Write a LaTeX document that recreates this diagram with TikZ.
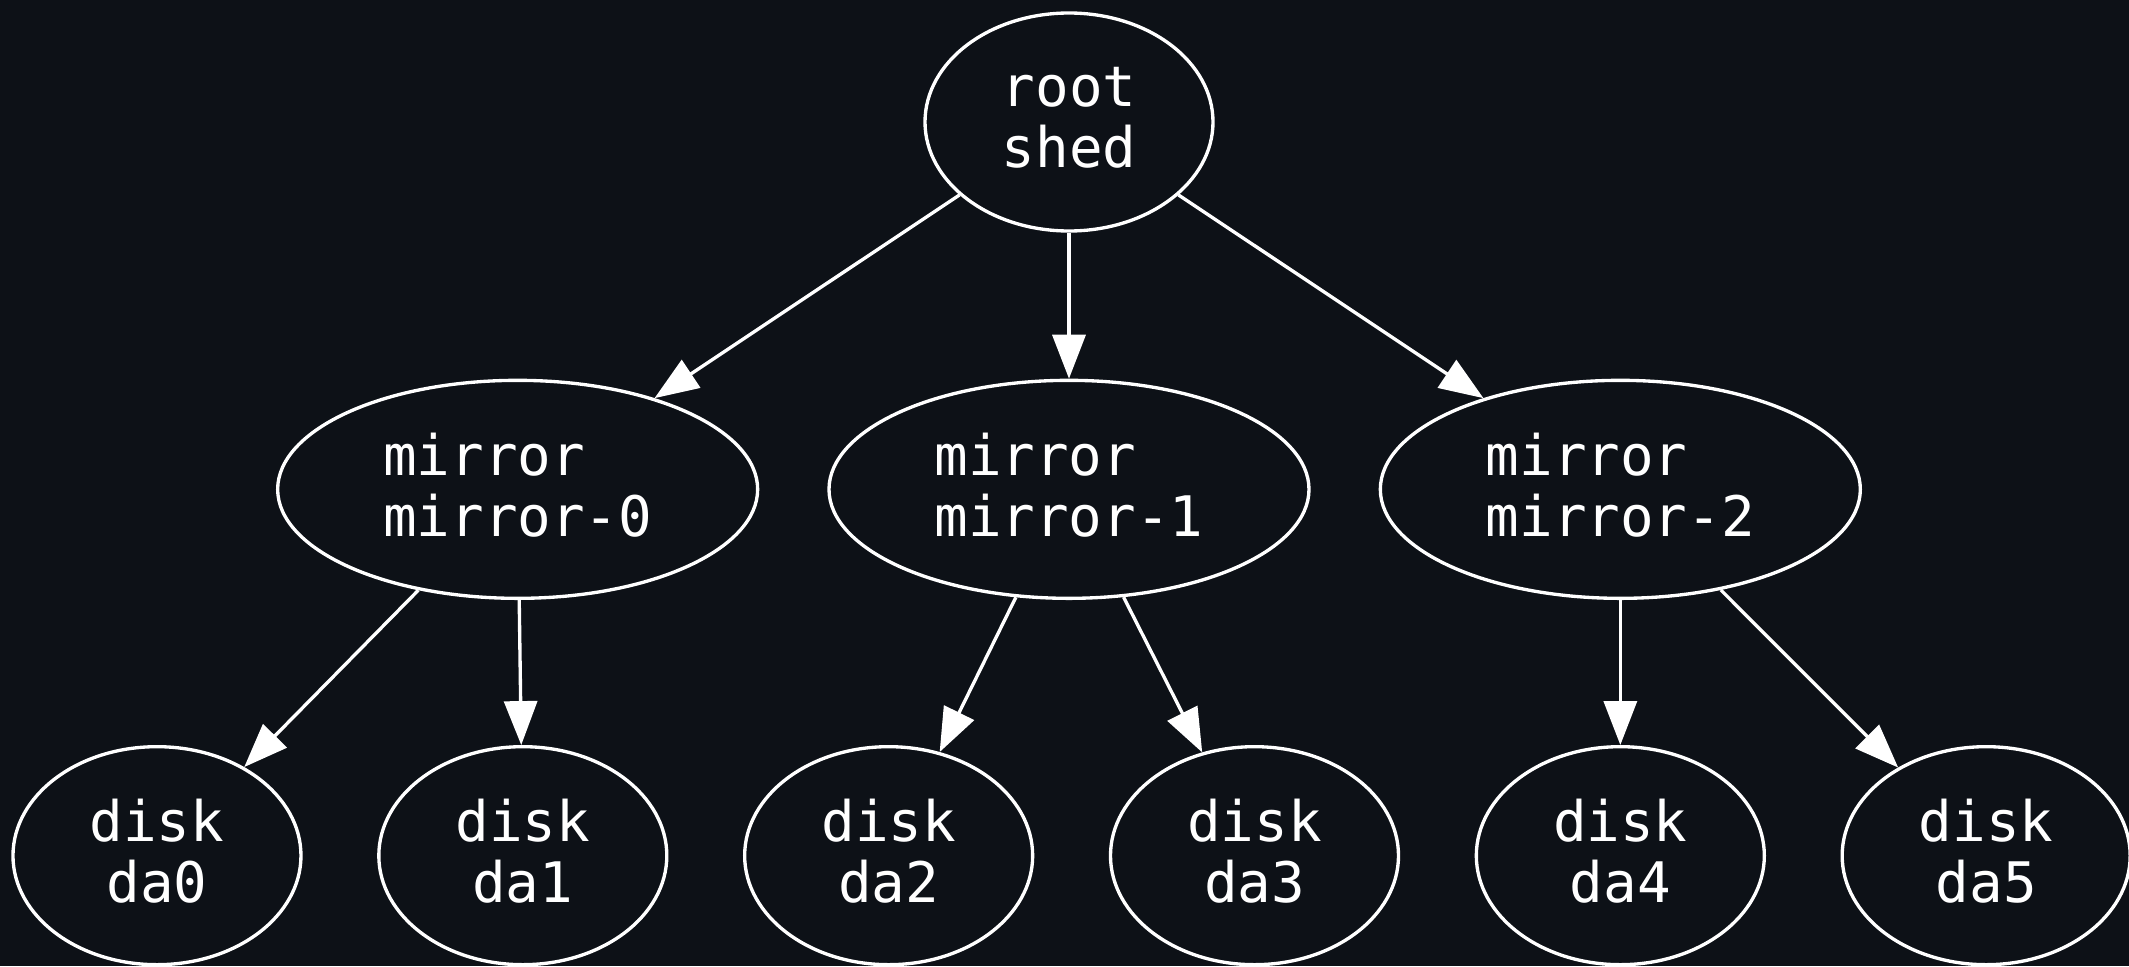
\documentclass[tikz,border=0pt]{standalone}
\usepackage{fontspec}
\setmonofont{DejaVu Sans Mono}
\usepackage{tikz,xcolor}
\usetikzlibrary{positioning, shapes.geometric, graphs, arrows.meta}

\definecolor{bgdark}{HTML}{0D1117}
\tikzset{
    vdev/.style={draw, ellipse, inner sep=0pt, line width=0.95pt, text depth=2.8pt,
        font=\ttfamily\fontsize{15.9}{17.3}\selectfont},
    rootvdev/.style={vdev, minimum width=2.88cm, minimum height=2.18cm, align=center},
    mirrorvdev/.style={vdev, minimum width=4.80cm, minimum height=2.18cm, align=left},
    diskvdev/.style={vdev, minimum width=2.88cm, minimum height=2.18cm, align=center},
}

\begin{document}
\begin{tikzpicture}[color=white, line width=0.95pt,
        >={Triangle[length=12.5pt, width=9.4pt]}]
            \fill[bgdark] (0,0) rectangle (21.29,9.66);
            \useasboundingbox (0,0) rectangle (21.29,9.66);

            \node[rootvdev] at (10.69,8.44)             (root)  {root\\shed};
            \node[mirrorvdev, below=1.46cm of root]     (m1)    {mirror\\mirror-1};
            \node[mirrorvdev, left=0.68cm of m1]        (m0)    {mirror\\mirror-0};
            \node[mirrorvdev, right=0.68cm of m1]       (m2)    {mirror\\mirror-2};
            \node[diskvdev, below=1.45cm of m2]         (da4)   {disk\\da4};
            \node[diskvdev, right=0.745cm of da4]       (da5)   {disk\\da5};
            \node[diskvdev, left=0.745cm of da4]        (da3)   {disk\\da3};
            \node[diskvdev, left=0.745cm of da3]        (da2)   {disk\\da2};
            \node[diskvdev, left=0.745cm of da2]        (da1)   {disk\\da1};
            \node[diskvdev, left=0.745cm of da1]        (da0)   {disk\\da0};

            \graph{
                (root) -> {(m0), (m1), (m2)};
                (m0) -> {(da0), (da1)};
                (m1) -> {(da2), (da3)};
                (m2) -> {(da4), (da5)};
            };
        \end{tikzpicture}
\end{document}
